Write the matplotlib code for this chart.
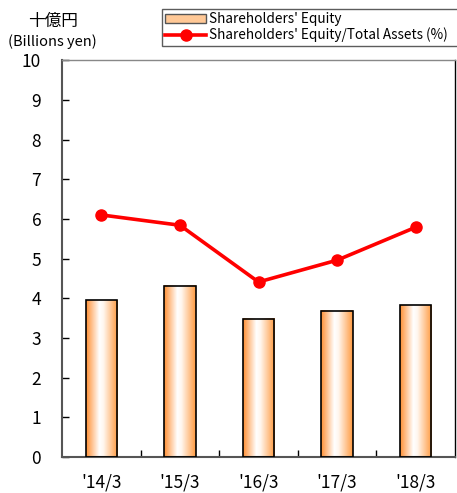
import matplotlib
matplotlib.use("Agg")
import matplotlib.pyplot as plt
from matplotlib.colors import LinearSegmentedColormap
from matplotlib.lines import Line2D
from matplotlib.patches import Rectangle
import numpy as np

#Here we set the style of the plots
plt.rcParams['font.family'] = ['Noto Sans CJK JP', 'DejaVu Sans']

#Data
periods = ["'14/3", "'15/3", "'16/3", "'17/3", "'18/3"]
equity = [3.95, 4.31, 3.48, 3.68, 3.83]
equity_ratio = [6.10, 5.84, 4.41, 4.96, 5.79]
y_ticks = [0, 1, 2, 3, 4, 5, 6, 7, 8, 9, 10]

#Cylinder-like gradient for the bars
bar_cmap = LinearSegmentedColormap.from_list(
    "cyl", [(0.0, "#ff8f33"), (0.42, "#ffffff"), (0.55, "#fff6ee"), (1.0, "#ff9a40")])
gradient = np.linspace(0, 1, 256).reshape(1, -1)

fig = plt.figure(figsize=(4.57, 4.93), dpi=100)
ax = fig.add_axes([0.1357, 0.073, 0.86, 0.805])

x = np.arange(len(periods))
width = 0.4
bars = ax.bar(x, equity, width=width, facecolor="none", edgecolor="black",
              linewidth=1.2, zorder=3)
#We fill every bar with the gradient image
for b in bars:
    ax.imshow(gradient, cmap=bar_cmap, aspect="auto", zorder=2,
              extent=(b.get_x(), b.get_x() + b.get_width(), 0, b.get_height()))

ax.plot(x, equity_ratio, color="#ff0000", linewidth=2.6, marker="o",
        markersize=8, zorder=4)

ax.set_xlim(-0.5, len(periods) - 0.5)
ax.set_ylim(0, 10)
ax.set_yticks(y_ticks)
ax.set_yticklabels([str(t) for t in y_ticks], fontsize=12.5)
ax.set_xticks(x)
ax.set_xticklabels(periods, fontsize=12.5)
ax.set_xticks(x[:-1] + 0.5, minor=True)
ax.tick_params(axis="x", which="major", length=0, pad=12)
ax.tick_params(axis="x", which="minor", direction="in", length=5, width=1)
ax.tick_params(axis="y", direction="in", length=5, width=1, pad=15)

for side in ["left", "bottom"]:
    ax.spines[side].set_color("#555555")
    ax.spines[side].set_linewidth(1.5)
ax.spines["top"].set_color("#888888")
ax.spines["top"].set_linewidth(1.0)
ax.spines["right"].set_color("black")
ax.spines["right"].set_linewidth(1.0)

#Unit labels at the top left
fig.text(0.116, 0.957, "十億円", fontsize=12, ha="center", va="center")
fig.text(0.114, 0.915, "(Billions yen)", fontsize=10.5, ha="center", va="center")

#Legend at the top, stretched to the right edge
handles = [
    Rectangle((0, 0), 1, 1, facecolor="#ffc896", edgecolor="#555555"),
    Line2D([0], [0], color="#ff0000", linewidth=2.6, marker="o", markersize=8),
]
labels = ["Shareholders' Equity", "Shareholders' Equity/Total Assets (%)"]
leg = fig.legend(handles, labels, loc="upper left", mode="expand",
                 bbox_to_anchor=(0.354, 0.91, 0.66, 0.072),
                 fontsize=9.8, frameon=True, fancybox=False, edgecolor="#333333",
                 handlelength=3.0, handletextpad=0.2, borderpad=0.25,
                 labelspacing=0.1, borderaxespad=0)
leg.get_frame().set_linewidth(1.0)

plt.savefig("out.png", dpi=100)
